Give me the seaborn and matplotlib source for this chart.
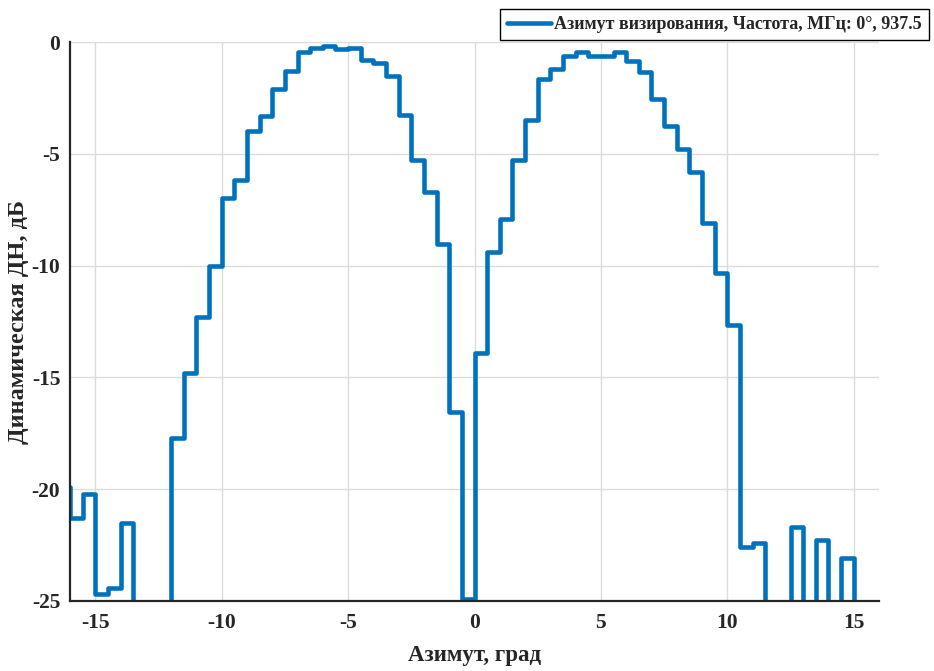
import matplotlib
matplotlib.use("Agg")
import matplotlib.pyplot as plt
import numpy as np
import pandas as pd
import seaborn as sns

# left edges of each 0.5 deg step (stairs, post)
azimuth = [-16.5, -16.0, -15.5, -15.0, -14.5, -14.0, -13.5, -13.0, -12.5, -12.0,
           -11.5, -11.0, -10.5, -10.0, -9.5, -9.0, -8.5, -8.0, -7.5, -7.0,
           -6.5, -6.0, -5.5, -5.0, -4.5, -4.0, -3.5, -3.0, -2.5, -2.0,
           -1.5, -1.0, -0.5, 0.0, 0.5, 1.0, 1.5, 2.0, 2.5, 3.0,
           3.5, 4.0, 4.5, 5.0, 5.5, 6.0, 6.5, 7.0, 7.5, 8.0,
           8.5, 9.0, 9.5, 10.0, 10.5, 11.0, 11.5, 12.0, 12.5, 13.0,
           13.5, 14.0, 14.5, 15.0, 15.5, 16.0]
# dB, values under -25 are off the bottom of the plot
gain_db = [-19.9, -21.3, -20.2, -24.7, -24.4, -21.5, -40.0, -40.0, -40.0, -17.7,
           -14.8, -12.3, -10.0, -6.97, -6.15, -4.0, -3.3, -2.1, -1.29, -0.45,
           -0.25, -0.17, -0.33, -0.28, -0.79, -0.96, -1.52, -3.27, -5.29, -6.69,
           -9.04, -16.56, -24.93, -13.9, -9.4, -7.9, -5.29, -3.47, -1.65, -1.2,
           -0.63, -0.46, -0.62, -0.62, -0.46, -0.86, -1.36, -2.53, -3.77, -4.78,
           -5.83, -8.1, -10.33, -12.64, -22.6, -22.4, -40.0, -40.0, -21.7, -40.0,
           -22.26, -40.0, -23.06, -40.0, -40.0, -40.0]

x_ticks = [-15, -10, -5, 0, 5, 10, 15]
y_ticks = [-25, -20, -15, -10, -5, 0]
series_label = "Азимут визирования, Частота, МГц: 0°, 937.5"

df = pd.DataFrame({"az": azimuth, "db": gain_db})

sns.set_theme(style="whitegrid")
plt.rcParams['font.family'] = ['Liberation Serif', 'DejaVu Serif']
plt.rcParams['font.weight'] = 'bold'
plt.rcParams['axes.labelweight'] = 'bold'
plt.rcParams['axes.unicode_minus'] = False

fig = plt.figure(figsize=(9.34, 6.71), dpi=100)
ax = fig.add_axes([70/934, 1-601/671, (879-70)/934, (601-42)/671])

sns.lineplot(data=df, x="az", y="db", ax=ax, color="#0072BD", linewidth=3.3,
             drawstyle="steps-post", errorbar=None, sort=False, label=series_label)

ax.set_xlim(-16, 16)
ax.set_ylim(-25, 0)
ax.set_xticks(x_ticks)
ax.set_yticks(y_ticks)
ax.grid(True, color="#dcdcdc", linewidth=1.0)
for s in ["top", "right"]:
    ax.spines[s].set_visible(False)
for s in ["left", "bottom"]:
    ax.spines[s].set_color("#262626")
    ax.spines[s].set_linewidth(1.6)
ax.tick_params(axis="both", direction="in", length=7, width=1.4, color="#262626",
               labelsize=15.5, labelcolor="#262626")
ax.tick_params(axis="x", pad=9)
ax.tick_params(axis="y", pad=7)
for lab in ax.get_xticklabels() + ax.get_yticklabels():
    lab.set_fontweight("bold")

ax.set_xlabel("Азимут, град", fontsize=16.5, fontweight="bold", color="#262626", labelpad=8)
ax.set_ylabel("Динамическая ДН, дБ", fontsize=17.5, fontweight="bold", color="#262626", labelpad=1.5)

leg = ax.legend(loc="upper right", bbox_to_anchor=(929/934, 1-9/671),
                bbox_transform=fig.transFigure, borderaxespad=0, fancybox=False,
                framealpha=1, edgecolor="black", handlelength=2.4, handletextpad=0.2,
                borderpad=0.4, prop={"size": 13, "weight": "bold"})
leg.get_frame().set_linewidth(1.0)

fig.savefig("out.png", dpi=100)
